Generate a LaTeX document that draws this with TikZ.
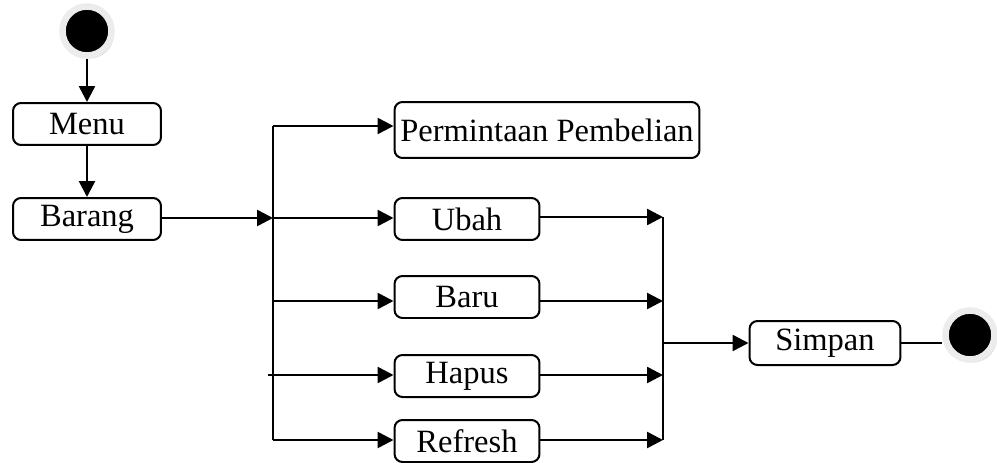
\documentclass[tikz,border=0pt]{standalone}
\usepackage{fontspec}
\setmainfont{Liberation Serif}
\usetikzlibrary{arrows.meta,shadows}
\begin{document}
\begin{tikzpicture}[x=0.02cm,y=-0.02cm,
	font=\fontsize{18.5}{21}\selectfont,
	box/.style={draw,line width=0.04cm,rounded corners=0.16cm,minimum height=0.84cm,inner sep=0pt},
	dot/.style={circle,fill=black,draw=gray!15,line width=0.13cm,minimum size=0.98cm,
		drop shadow={opacity=0.35,shadow xshift=0.05cm,shadow yshift=-0.06cm}},
	arr/.style={line width=0.05cm,-{Triangle[length=0.32cm,width=0.32cm]}},
	ln/.style={line width=0.05cm}]
	\useasboundingbox (0,0) rectangle (997,463);
	% start, menu, barang
	\node[dot] (start) at (87,31) {};
	\node[box,minimum width=2.96cm] (menu) at (87,124) {Menu};
	\node[box,minimum width=2.96cm] (barang) at (87,219) {Barang};
	\draw[arr] (start) -- (menu);
	\draw[arr] (menu) -- (barang);
	
	% actions
	\node[box,minimum width=6.1cm,minimum height=1.12cm] (minta) at (547,130) {Permintaan Pembelian};
	\node[box,minimum width=2.9cm] (ubah) at (467,219) {Ubah};
	\node[box,minimum width=2.9cm] (baru) at (467,297) {Baru};
	\node[box,minimum width=2.9cm] (hapus) at (467,376) {Hapus};
	\node[box,minimum width=2.9cm] (refresh) at (467,441) {Refresh};
	
	% left fork
	\coordinate (f1) at (273,126);
	\coordinate (f2) at (273,218);
	\coordinate (f3) at (273,301);
	\coordinate (f4) at (268,375);
	\coordinate (f5) at (273,440);
	\draw[ln] (f1) -- (f5);
	\draw[arr] (barang.east |- f2) -- (f2);
	\draw[arr] (f1) -- (f1 -| minta.west);
	\draw[arr] (f2) -- (f2 -| ubah.west);
	\draw[arr] (f3) -- (f3 -| baru.west);
	\draw[arr] (f4) -- (f4 -| hapus.west);
	\draw[arr] (f5) -- (f5 -| refresh.west);
	
	% right join
	\coordinate (j1) at (663,217);
	\coordinate (j2) at (663,301);
	\coordinate (j3) at (663,375);
	\coordinate (j4) at (663,440);
	\draw[ln] (j1) -- (j4);
	\draw[arr] (j1 -| ubah.east) -- (j1);
	\draw[arr] (j2 -| baru.east) -- (j2);
	\draw[arr] (j3 -| hapus.east) -- (j3);
	\draw[arr] (j4 -| refresh.east) -- (j4);
	
	% simpan, end
	\node[box,minimum width=3.02cm,minimum height=0.88cm] (simpan) at (825,343) {Simpan};
	\node[dot] (stop) at (970,335) {};
	\draw[arr] (j1 |- simpan) -- (simpan);
	\draw[line width=0.03cm] (simpan) -- (simpan -| stop.west);
\end{tikzpicture}
\end{document}
